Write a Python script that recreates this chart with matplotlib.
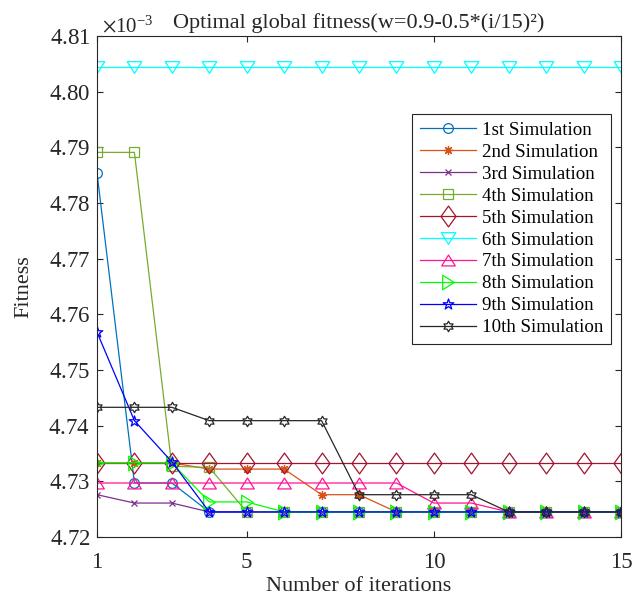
import matplotlib

matplotlib.use("Agg")
import matplotlib.pyplot as plt
from matplotlib.path import Path
from matplotlib.ticker import ScalarFormatter

plt.rcParams["font.family"] = ["Liberation Serif", "DejaVu Serif"]
plt.rcParams["mathtext.fontset"] = "stix"

iterations = list(range(1, 16))

# best fitness per iteration (x1e-3), one list per run
sim1 = [4.7854, 4.7297, 4.7297, 4.7245, 4.7245, 4.7245, 4.7245, 4.7245, 4.7245, 4.7245, 4.7245, 4.7245, 4.7245, 4.7245, 4.7245]
sim2 = [4.7333, 4.7333, 4.7333, 4.7322, 4.7322, 4.7322, 4.7276, 4.7276, 4.7245, 4.7245, 4.7245, 4.7245, 4.7245, 4.7245, 4.7245]
sim3 = [4.7276, 4.7261, 4.7261, 4.7245, 4.7245, 4.7245, 4.7245, 4.7245, 4.7245, 4.7245, 4.7245, 4.7245, 4.7245, 4.7245, 4.7245]
sim4 = [4.7891, 4.7891, 4.7327, 4.7325, 4.7245, 4.7245, 4.7245, 4.7245, 4.7245, 4.7245, 4.7245, 4.7245, 4.7245, 4.7245, 4.7245]
sim5 = [4.7333, 4.7333, 4.7333, 4.7333, 4.7333, 4.7333, 4.7333, 4.7333, 4.7333, 4.7333, 4.7333, 4.7333, 4.7333, 4.7333, 4.7333]
sim6 = [4.8045, 4.8045, 4.8045, 4.8045, 4.8045, 4.8045, 4.8045, 4.8045, 4.8045, 4.8045, 4.8045, 4.8045, 4.8045, 4.8045, 4.8045]
sim7 = [4.7297, 4.7297, 4.7297, 4.7297, 4.7297, 4.7297, 4.7297, 4.7297, 4.7297, 4.7261, 4.7261, 4.7245, 4.7245, 4.7245, 4.7245]
sim8 = [4.7333, 4.7333, 4.7333, 4.7263, 4.7263, 4.7245, 4.7245, 4.7245, 4.7245, 4.7245, 4.7245, 4.7245, 4.7245, 4.7245, 4.7245]
sim9 = [4.7568, 4.7409, 4.7335, 4.7245, 4.7245, 4.7245, 4.7245, 4.7245, 4.7245, 4.7245, 4.7245, 4.7245, 4.7245, 4.7245, 4.7245]
sim10 = [4.7433, 4.7433, 4.7433, 4.7409, 4.7409, 4.7409, 4.7409, 4.7276, 4.7276, 4.7276, 4.7276, 4.7245, 4.7245, 4.7245, 4.7245]

labels = ["1st Simulation", "2nd Simulation", "3rd Simulation", "4th Simulation", "5th Simulation",
          "6th Simulation", "7th Simulation", "8th Simulation", "9th Simulation", "10th Simulation"]
series = [sim1, sim2, sim3, sim4, sim5, sim6, sim7, sim8, sim9, sim10]

# MATLAB-like marker shapes: tall diamond, squat triangles, thin stars
diamond = Path([(0, 1), (0.72, 0), (0, -1), (-0.72, 0), (0, 1)], closed=True)
tri_down = Path([(-1, 0.8), (1, 0.8), (0, -0.8), (-1, 0.8)], closed=True)
tri_up = Path([(-1, -0.8), (1, -0.8), (0, 0.8), (-1, -0.8)], closed=True)
tri_right = Path([(-0.8, 1), (0.8, 0), (-0.8, -1), (-0.8, 1)], closed=True)
pentagram = Path.unit_regular_star(5, 0.382)
hexagram = Path.unit_regular_star(6, 0.577)

styles = [
    ("#0072BD", "o", 7.0),
    ("#D95319", (8, 2, 0), 6.5),
    ("#7E2F8E", "x", 5.0),
    ("#77AC30", "s", 6.5),
    ("#A2142F", diamond, 15.0),
    ("#00FFFF", tri_down, 10.5),
    ("#FF1493", tri_up, 9.8),
    ("#00FF00", tri_right, 10.5),
    ("#0000FF", pentagram, 8.0),
    ("#262626", hexagram, 7.5),
]

fig = plt.figure(figsize=(6.34, 6.01), dpi=100)
ax = fig.add_axes([0.153, 0.1065, 0.8265, 0.8335])

for vals, lab, (col, mk, ms) in zip(series, labels, styles):
    ax.plot(iterations, [v * 1e-3 for v in vals], color=col, marker=mk, markersize=ms,
            markerfacecolor="none", markeredgecolor=col, markeredgewidth=0.9,
            linewidth=0.9, label=lab)

ax.set_xlim(1, 15)
ax.set_ylim(4.72e-3, 4.81e-3)
ax.set_xticks([1, 5, 10, 15])
ax.set_yticks([v * 1e-3 for v in [4.72, 4.73, 4.74, 4.75, 4.76, 4.77, 4.78, 4.79, 4.80, 4.81]])

fmt = ScalarFormatter(useMathText=True)
fmt.set_powerlimits((-2, 2))
ax.yaxis.set_major_formatter(fmt)
ax.yaxis.get_offset_text().set_fontsize(15)
ax.yaxis.get_offset_text().set_x(0.01)

ax.tick_params(direction="in", top=True, right=True, length=4, width=0.8,
               labelsize=16.5, colors="#262626", pad=5)
ax.tick_params(axis="x", pad=11)
for sp in ax.spines.values():
    sp.set_color("#262626")
    sp.set_linewidth(0.8)

ax.set_xlabel("Number of iterations", fontsize=16, color="#262626", labelpad=3)
ax.set_ylabel("Fitness", fontsize=16, color="#262626", labelpad=11)
ax.set_title("Optimal global fitness(w=0.9-0.5*(i/15)²)", fontsize=16, color="#262626", pad=6)

leg = ax.legend(loc="upper right", bbox_to_anchor=(0.9637, 0.8103), bbox_transform=fig.transFigure,
                borderaxespad=0, fontsize=13.6, handlelength=3.0, labelspacing=0.25,
                handletextpad=0.3, borderpad=0.4, fancybox=False, framealpha=1)
leg.get_frame().set_edgecolor("#262626")
leg.get_frame().set_linewidth(0.8)

fig.savefig("out.png", dpi=100)
